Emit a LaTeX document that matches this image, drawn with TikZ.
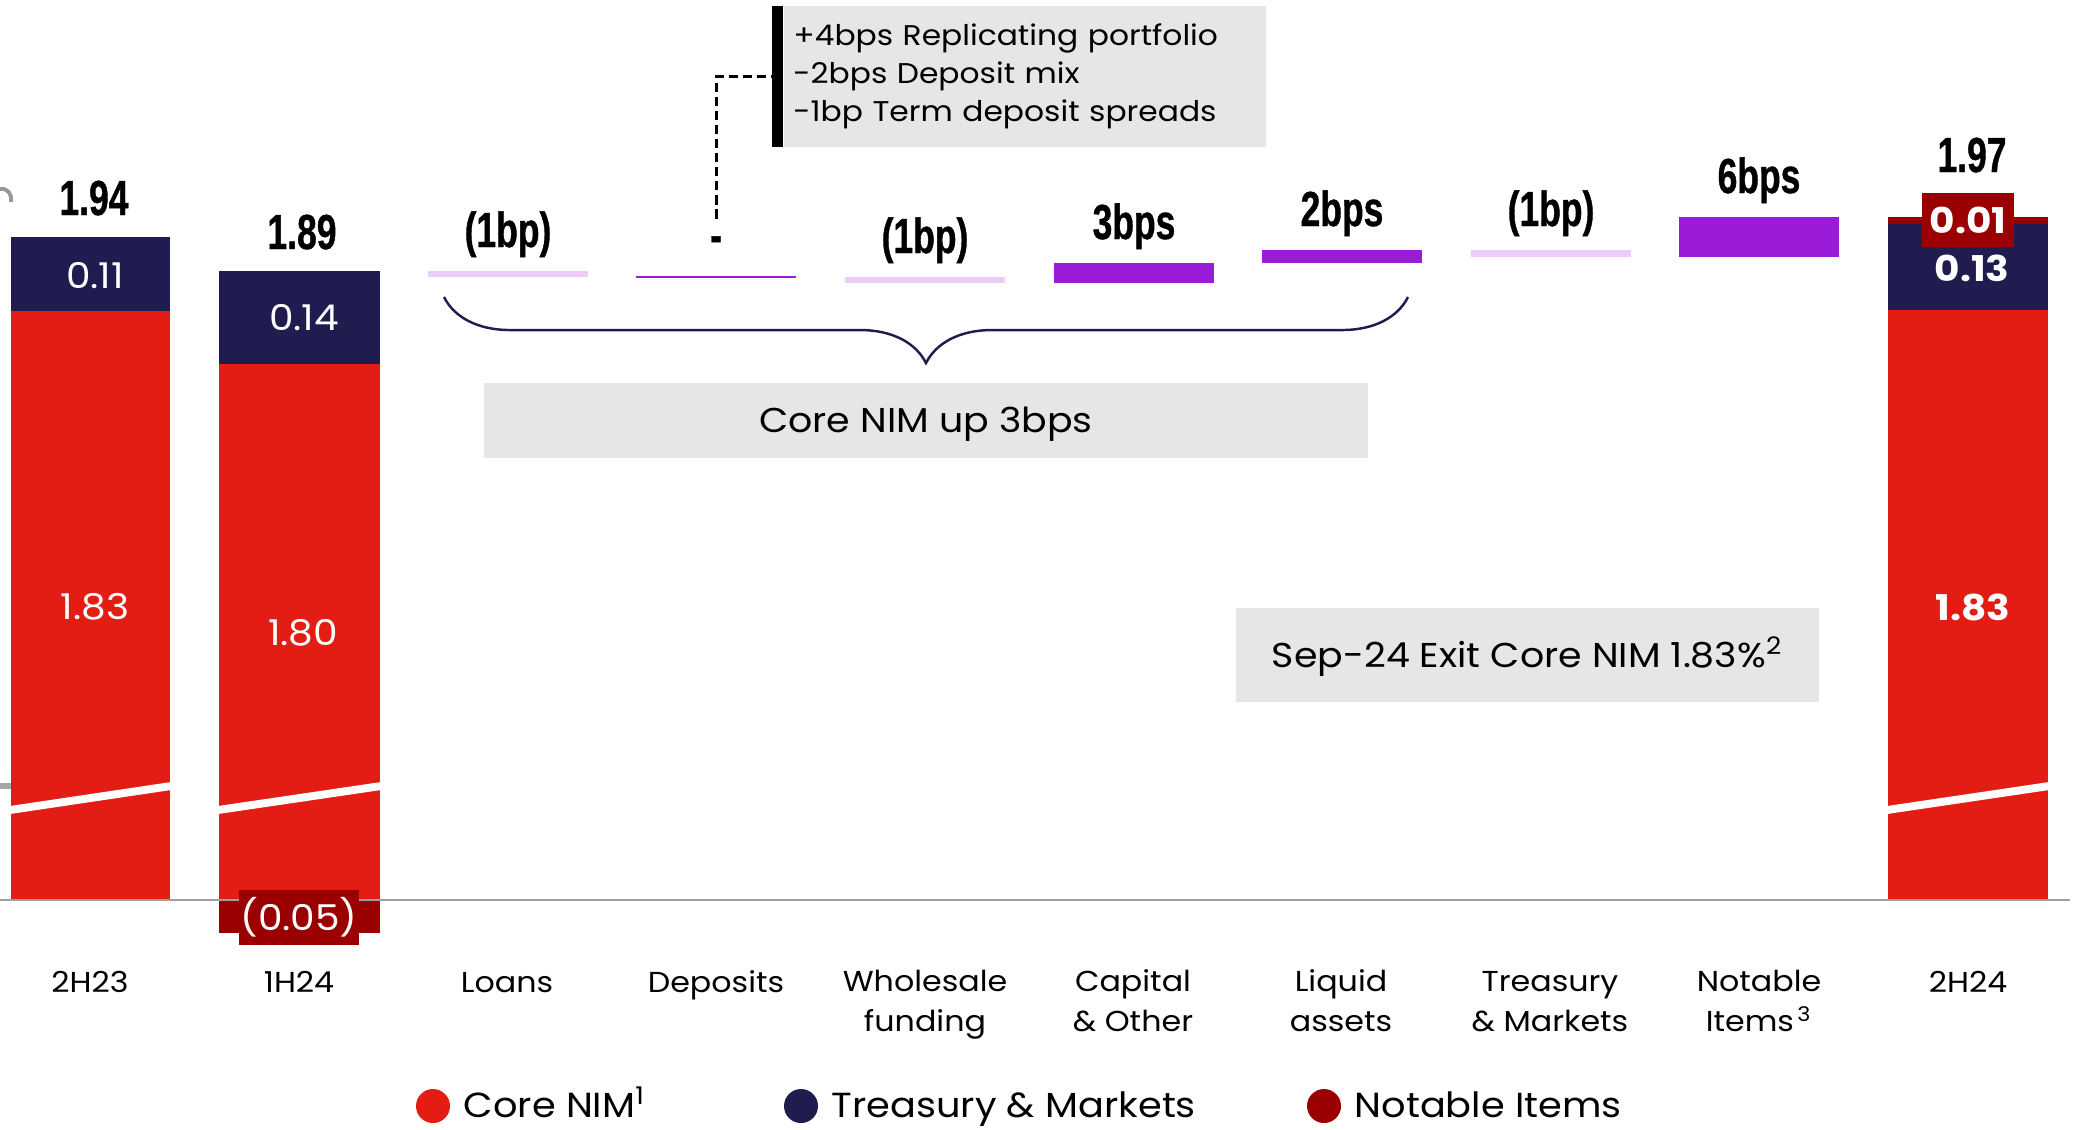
\documentclass[tikz,border=0pt]{standalone}
\usepackage{fontspec}
\setmainfont{Poppins}[FakeStretch=1.1]
\newfontfamily\numfont[FakeStretch=0.72,FakeBold=0.8]{Liberation Sans}
\usetikzlibrary{positioning,decorations.pathreplacing}

\definecolor{coreRed}{HTML}{E31C14}
\definecolor{tmNavy}{HTML}{201C4F}
\definecolor{notableRed}{HTML}{9B0000}
\definecolor{upPurple}{HTML}{9A1CD8}
\definecolor{downLilac}{HTML}{EBCDF7}
\definecolor{boxGrey}{HTML}{E6E5E8}

\tikzset{
  barval/.style={text=white, inner sep=0pt, font=\fontsize{10.1}{12}\selectfont},
  barvalbold/.style={barval, font=\fontsize{10.1}{12}\selectfont\bfseries},
  total/.style={anchor=base, inner sep=0pt, font=\numfont\bfseries\fontsize{14}{16}\selectfont},
  catlabel/.style={anchor=base, align=center, inner sep=0pt, font=\fontsize{8.2}{11.1}\selectfont},
  legtext/.style={anchor=base west, inner sep=0pt, font=\fontsize{9.9}{11}\selectfont},
  legdot/.style={circle, inner sep=0pt, minimum size=0.34cm},
  greybox/.style={fill=boxGrey, inner sep=0pt, text height=0.7em, text depth=0pt,
    font=\fontsize{9.8}{12}\selectfont},
  notebox/.style={fill=boxGrey, inner xsep=0.09cm, inner ysep=0pt, text width=4.63cm,
    minimum height=1.41cm, align=left, font=\fontsize{8.1}{10.8}\selectfont},
  notelink/.style={line width=0.85pt, dash pattern=on 2.6pt off 1.4pt},
  axisline/.style={gray!75, line width=0.55pt}
}

\begin{document}
\begin{tikzpicture}[x=0.01cm,y=-0.01cm]
  \useasboundingbox (0,0) rectangle (2082,1129);

  % bits of the slide cut off on the left
  \draw[gray!80, line width=1.1pt] (0,189) .. controls (8,188) and (12,194) .. (11,202);
  \fill[gray!70] (0,783) rectangle (13,789);

  % 2H23
  \fill[tmNavy] (11,237) rectangle (170,311);
  \fill[coreRed] (11,311) rectangle (170,900);

  % 1H24
  \fill[tmNavy] (219,271) rectangle (380,364);
  \fill[coreRed] (219,364) rectangle (380,900);
  \fill[notableRed] (219,900) rectangle (380,933);

  % 2H24
  \fill[notableRed] (1888,217) rectangle (2048,224);
  \fill[tmNavy] (1888,224) rectangle (2048,310);
  \fill[coreRed] (1888,310) rectangle (2048,900);

  % axis breaks
  \foreach \l/\r in {11/170, 219/380, 1888/2048}
    \fill[white] (\l-1,806) -- (\r+1,782) -- (\r+1,790) -- (\l-1,814) -- cycle;

  \draw[axisline] (0,900) -- (2070,900);

  % values inside the bars
  \node[barval] (tm2H23) at (95,276) {0.11};
  \node[barval] (core2H23) at (95,607) {1.83};
  \node[barval] (tm1H24) at (304,318) {0.14};
  \node[barval] (core1H24) at (303,633) {1.80};
  \node[barval, fill=notableRed, minimum width=1.2cm, minimum height=0.55cm] (ni1H24) at (299,917) {(0.05)};
  \node[barvalbold, fill=notableRed, minimum width=0.92cm, minimum height=0.54cm] (ni2H24) at (1968,220) {0.01};
  \node[barvalbold] (tm2H24) at (1972,268) {0.13};
  \node[barvalbold] (core2H24) at (1973,607) {1.83};

  % totals
  \node[total] (tot2H23) at (94,215) {1.94};
  \node[total] (tot1H24) at (302,249) {1.89};
  \node[total] (tot2H24) at (1972,172) {1.97};

  % movements
  \foreach \x/\top/\bot/\col/\lbl/\nm in {508/271/277/downLilac/(1bp)/loans,
      716/276/278/upPurple/-/deposits, 925/277/283/downLilac/(1bp)/wholesale,
      1134/263/283/upPurple/3bps/capital, 1342/250/263/upPurple/2bps/liquid,
      1551/250/257/downLilac/(1bp)/treasury, 1759/217/257/upPurple/6bps/notable} {
    \fill[\col] (\x-80,\top) rectangle (\x+80,\bot);
    \node[total] (\nm Lbl) at (\x,\top-24) {\lbl};
  }

  % deposits callout
  \node (noteBar) [fill=black, inner sep=0pt, minimum width=0.11cm, minimum height=1.41cm] at (777.5,76.5) {};
  \node (note) [notebox, right=0pt of noteBar] {+4bps Replicating portfolio\\-2bps Deposit mix\\-1bp Term deposit spreads};
  \draw[notelink, shorten <=0.17cm] (depositsLbl.north) |- (noteBar.west);

  % core NIM brace
  \coordinate (braceR) at (1408,297);
  \coordinate (braceL) at (444,297);
  \draw[tmNavy, line width=0.7pt, decorate, decoration={brace, amplitude=0.66cm}] (braceR) -- (braceL);
  \node[greybox, minimum width=8.84cm, minimum height=0.75cm] (coreUp) at (926,420.5) {Core NIM up 3bps};

  \node[greybox, minimum width=5.83cm, minimum height=0.94cm] (exitNim) at (1527.5,655) {Sep-24 Exit Core NIM 1.83\%\textsuperscript{2}};

  % categories (base = last line)
  \foreach \x/\y/\txt in {90/992/2H23, 299/992/1H24, 507/992/Loans, 716/992/Deposits,
      925/1031/{Wholesale\\funding}, 1133/1031/{Capital\\\& Other}, 1341/1031/{Liquid\\assets},
      1550/1031/{Treasury\\\& Markets}, 1759/1031/{Notable\\Items\textsuperscript{\,3}}, 1968/992/2H24}
    \node[catlabel] at (\x,\y) {\txt};

  % legend
  \foreach \x/\col/\txt/\nm in {433/coreRed/{Core NIM\textsuperscript{1}}/Core,
      801/tmNavy/{Treasury \& Markets}/TM, 1324/notableRed/{Notable Items}/NI} {
    \node[legdot, fill=\col] (dot\nm) at (\x,1106) {};
    \node[legtext] (leg\nm) at (\x+30,1117.5) {\txt};
  }
\end{tikzpicture}
\end{document}
